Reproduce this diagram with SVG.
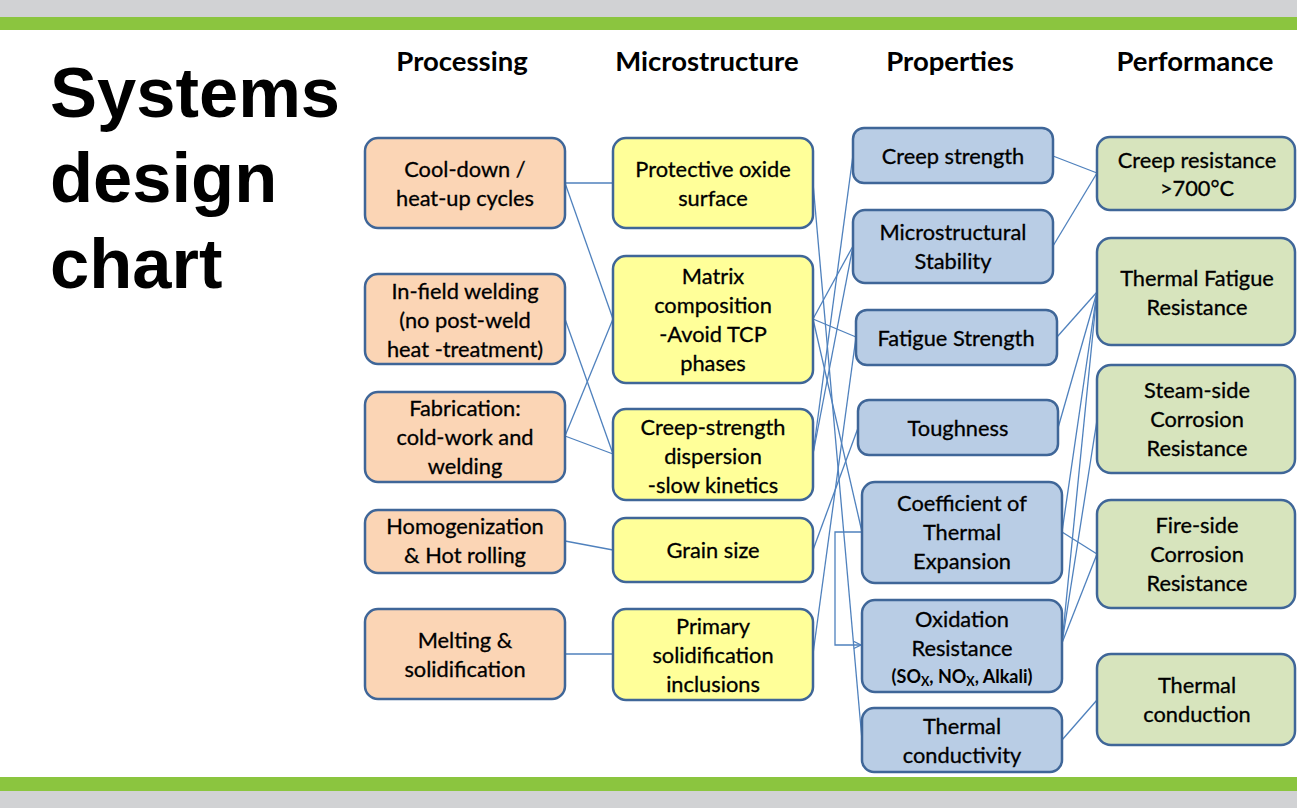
<svg xmlns="http://www.w3.org/2000/svg" width="1297" height="808" viewBox="0 0 1297 808">
  <style>
    .box { stroke: #3F6698; stroke-width: 2.5; }
    .proc { fill: #FBD5B5; }
    .micro { fill: #FFFF99; }
    .prop { fill: #B9CDE5; }
    .perf { fill: #D7E4BD; }
    .lbl { font-family: Lato, "Liberation Sans", sans-serif; font-size: 21.8px; fill: #000; stroke: #000; stroke-width: 0.3; text-anchor: middle; }
    .small { font-family: Lato, "Liberation Sans", sans-serif; font-size: 18px; font-weight: bold; fill: #000; text-anchor: middle; }
    .head { font-family: Lato, "Liberation Sans", sans-serif; font-size: 27.5px; font-weight: bold; fill: #000; text-anchor: middle; }
    .title { font-family: "Liberation Sans", Arial, sans-serif; font-size: 70.5px; font-weight: bold; fill: #000; }
    .conn { fill: none; stroke: #4F81BD; stroke-width: 1.3; }
  </style>
  <defs>
    <marker id="openArrow" viewBox="0 0 10 10" refX="9" refY="5" markerWidth="9" markerHeight="9" markerUnits="userSpaceOnUse" orient="auto">
      <path d="M1,1 L9,5 L1,9" fill="none" stroke="#4F81BD" stroke-width="1.3"/>
    </marker>
  </defs>

  <!-- page bands -->
  <rect x="0" y="0" width="1297" height="17" fill="#D1D2D4"/>
  <rect x="0" y="17" width="1297" height="13" fill="#8BC53F"/>
  <rect x="0" y="777" width="1297" height="14" fill="#8BC53F"/>
  <rect x="0" y="791" width="1297" height="17" fill="#D1D2D4"/>

  <!-- title -->
  <text class="title" x="50" y="117">Systems</text>
  <text class="title" x="50" y="202">design</text>
  <text class="title" x="50" y="288">chart</text>

  <!-- column headings -->
  <text class="head" x="462" y="71">Processing</text>
  <text class="head" x="707" y="71">Microstructure</text>
  <text class="head" x="950" y="71">Properties</text>
  <text class="head" x="1195" y="71">Performance</text>

  <!-- connectors -->
  <g id="connectors">
    <line class="conn" x1="565" y1="183" x2="613" y2="183"/>
    <line class="conn" x1="565" y1="183" x2="613" y2="319"/>
    <line class="conn" x1="565" y1="319" x2="613" y2="454"/>
    <line class="conn" x1="565" y1="436" x2="613" y2="319"/>
    <line class="conn" x1="565" y1="436" x2="613" y2="454"/>
    <line class="conn" x1="565" y1="541" x2="613" y2="550"/>
    <line class="conn" x1="565" y1="654" x2="613" y2="654"/>

    <line class="conn" x1="813" y1="183" x2="862" y2="740"/>
    <line class="conn" x1="813" y1="319" x2="853" y2="246"/>
    <line class="conn" x1="813" y1="319" x2="856" y2="337"/>
    <line class="conn" x1="813" y1="319" x2="862" y2="532"/>
    <line class="conn" x1="813" y1="454" x2="853" y2="155"/>
    <line class="conn" x1="813" y1="454" x2="853" y2="246"/>
    <line class="conn" x1="813" y1="550" x2="858" y2="428"/>
    <line class="conn" x1="813" y1="654" x2="856" y2="337"/>
    <path class="conn" d="M862,532 H835 V645 H861" marker-end="url(#openArrow)"/>

    <line class="conn" x1="1053" y1="156" x2="1097" y2="173"/>
    <line class="conn" x1="1053" y1="246" x2="1097" y2="173"/>
    <line class="conn" x1="1057" y1="337" x2="1097" y2="292"/>
    <line class="conn" x1="1058" y1="428" x2="1097" y2="292"/>
    <line class="conn" x1="1062" y1="532" x2="1097" y2="292"/>
    <line class="conn" x1="1062" y1="643" x2="1097" y2="292"/>
    <line class="conn" x1="1062" y1="643" x2="1097" y2="420"/>
    <line class="conn" x1="1062" y1="532" x2="1097" y2="554"/>
    <line class="conn" x1="1062" y1="643" x2="1097" y2="554"/>
    <line class="conn" x1="1062" y1="740" x2="1097" y2="700"/>
  </g>

  <!-- processing -->
  <g id="cooldown">
    <rect class="box proc" x="365" y="138" width="200" height="90" rx="13"/>
    <text class="lbl" x="465" y="177">Cool-down /</text>
    <text class="lbl" x="465" y="206">heat-up cycles</text>
  </g>
  <g id="infield-welding">
    <rect class="box proc" x="365" y="274" width="200" height="90" rx="13"/>
    <text class="lbl" x="465" y="299">In-field welding</text>
    <text class="lbl" x="465" y="328">(no post-weld</text>
    <text class="lbl" x="465" y="357">heat -treatment)</text>
  </g>
  <g id="fabrication">
    <rect class="box proc" x="365" y="392" width="200" height="90" rx="13"/>
    <text class="lbl" x="465" y="416">Fabrication:</text>
    <text class="lbl" x="465" y="445">cold-work and</text>
    <text class="lbl" x="465" y="474">welding</text>
  </g>
  <g id="homogenization">
    <rect class="box proc" x="365" y="510" width="200" height="63" rx="13"/>
    <text class="lbl" x="465" y="534">Homogenization</text>
    <text class="lbl" x="465" y="563">&amp; Hot rolling</text>
  </g>
  <g id="melting">
    <rect class="box proc" x="365" y="609" width="200" height="90" rx="13"/>
    <text class="lbl" x="465" y="648">Melting &amp;</text>
    <text class="lbl" x="465" y="677">solidification</text>
  </g>

  <!-- microstructure -->
  <g id="protective-oxide">
    <rect class="box micro" x="613" y="138" width="200" height="90" rx="13"/>
    <text class="lbl" x="713" y="177">Protective oxide</text>
    <text class="lbl" x="713" y="206">surface</text>
  </g>
  <g id="matrix">
    <rect class="box micro" x="613" y="256" width="200" height="127" rx="13"/>
    <text class="lbl" x="713" y="284">Matrix</text>
    <text class="lbl" x="713" y="313">composition</text>
    <text class="lbl" x="713" y="342">-Avoid TCP</text>
    <text class="lbl" x="713" y="371">phases</text>
  </g>
  <g id="creep-dispersion">
    <rect class="box micro" x="613" y="409" width="200" height="91" rx="13"/>
    <text class="lbl" x="713" y="435">Creep-strength</text>
    <text class="lbl" x="713" y="464">dispersion</text>
    <text class="lbl" x="713" y="493">-slow kinetics</text>
  </g>
  <g id="grain-size">
    <rect class="box micro" x="613" y="518" width="200" height="64" rx="13"/>
    <text class="lbl" x="713" y="558">Grain size</text>
  </g>
  <g id="primary-inclusions">
    <rect class="box micro" x="613" y="609" width="200" height="91" rx="13"/>
    <text class="lbl" x="713" y="634">Primary</text>
    <text class="lbl" x="713" y="663">solidification</text>
    <text class="lbl" x="713" y="692">inclusions</text>
  </g>

  <!-- properties -->
  <g id="creep-strength">
    <rect class="box prop" x="853" y="128" width="200" height="55" rx="11"/>
    <text class="lbl" x="953" y="164">Creep strength</text>
  </g>
  <g id="microstructural-stability">
    <rect class="box prop" x="853" y="210" width="200" height="73" rx="12"/>
    <text class="lbl" x="953" y="240">Microstructural</text>
    <text class="lbl" x="953" y="269">Stability</text>
  </g>
  <g id="fatigue-strength">
    <rect class="box prop" x="856" y="310" width="201" height="55" rx="11"/>
    <text class="lbl" x="956" y="346">Fatigue Strength</text>
  </g>
  <g id="toughness">
    <rect class="box prop" x="858" y="400" width="200" height="55" rx="11"/>
    <text class="lbl" x="958" y="436">Toughness</text>
  </g>
  <g id="thermal-expansion">
    <rect class="box prop" x="862" y="482" width="200" height="101" rx="13"/>
    <text class="lbl" x="962" y="511">Coefficient of</text>
    <text class="lbl" x="962" y="540">Thermal</text>
    <text class="lbl" x="962" y="569">Expansion</text>
  </g>
  <g id="oxidation-resistance">
    <rect class="box prop" x="862" y="600" width="200" height="92" rx="13"/>
    <text class="lbl" x="962" y="627">Oxidation</text>
    <text class="lbl" x="962" y="656">Resistance</text>
    <text class="small" x="962" y="683">(SO<tspan font-size="12.5" dy="3">X</tspan><tspan dy="-3">, NO</tspan><tspan font-size="12.5" dy="3">X</tspan><tspan dy="-3">, Alkali)</tspan></text>
  </g>
  <g id="thermal-conductivity">
    <rect class="box prop" x="862" y="708" width="200" height="64" rx="12"/>
    <text class="lbl" x="962" y="734">Thermal</text>
    <text class="lbl" x="962" y="763">conductivity</text>
  </g>

  <!-- performance -->
  <g id="creep-resistance">
    <rect class="box perf" x="1097" y="137" width="198" height="73" rx="13"/>
    <text class="lbl" x="1197" y="168">Creep resistance</text>
    <text class="lbl" x="1197" y="196">&gt;700°C</text>
  </g>
  <g id="thermal-fatigue">
    <rect class="box perf" x="1097" y="238" width="198" height="107" rx="14"/>
    <text class="lbl" x="1197" y="286">Thermal Fatigue</text>
    <text class="lbl" x="1197" y="315">Resistance</text>
  </g>
  <g id="steam-side">
    <rect class="box perf" x="1097" y="365" width="198" height="108" rx="14"/>
    <text class="lbl" x="1197" y="398">Steam-side</text>
    <text class="lbl" x="1197" y="427">Corrosion</text>
    <text class="lbl" x="1197" y="456">Resistance</text>
  </g>
  <g id="fire-side">
    <rect class="box perf" x="1097" y="500" width="198" height="108" rx="14"/>
    <text class="lbl" x="1197" y="533">Fire-side</text>
    <text class="lbl" x="1197" y="562">Corrosion</text>
    <text class="lbl" x="1197" y="591">Resistance</text>
  </g>
  <g id="thermal-conduction">
    <rect class="box perf" x="1097" y="654" width="198" height="91" rx="14"/>
    <text class="lbl" x="1197" y="693">Thermal</text>
    <text class="lbl" x="1197" y="722">conduction</text>
  </g>
</svg>
